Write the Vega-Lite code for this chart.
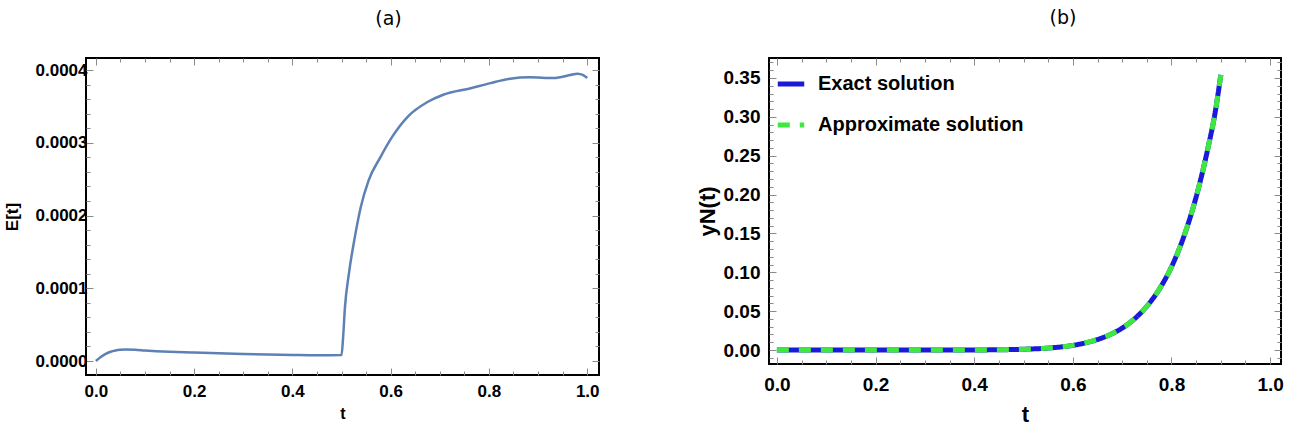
{
  "$schema": "https://vega.github.io/schema/vega-lite/v6.json",
  "padding": {"left": 2, "top": 8, "right": 5, "bottom": 0},
  "background": "white",
  "config": {
    "font": "Liberation Sans",
    "view": {"stroke": "black", "strokeWidth": 2},
    "axis": {
      "domain": false,
      "grid": false,
      "tickColor": "#8a8a8a",
      "tickWidth": 1,
      "labelFont": "Liberation Sans",
      "labelFontWeight": "bold",
      "labelColor": "black",
      "labelOverlap": false,
      "titleFont": "Liberation Sans",
      "titleFontWeight": "bold",
      "titleColor": "black"
    },
    "title": {"font": "DejaVu Sans", "fontSize": 19, "fontWeight": "normal", "color": "black", "anchor": "middle", "frame": "group"},
    "legend": {"labelFont": "Liberation Sans"}
  },
  "datasets": {
    "err": [
      {"t": 0.0, "E": 0.0},
      {"t": 0.01, "E": 0.0000055},
      {"t": 0.02, "E": 0.0000098},
      {"t": 0.03, "E": 0.0000128},
      {"t": 0.04, "E": 0.0000146},
      {"t": 0.05, "E": 0.0000155},
      {"t": 0.06, "E": 0.0000158},
      {"t": 0.08, "E": 0.0000154},
      {"t": 0.1, "E": 0.0000145},
      {"t": 0.15, "E": 0.0000128},
      {"t": 0.2, "E": 0.0000117},
      {"t": 0.25, "E": 0.0000107},
      {"t": 0.3, "E": 0.0000098},
      {"t": 0.35, "E": 0.000009},
      {"t": 0.4, "E": 0.0000083},
      {"t": 0.45, "E": 0.0000078},
      {"t": 0.5, "E": 0.0000082},
      {"t": 0.503, "E": 0.00003},
      {"t": 0.507, "E": 0.000074},
      {"t": 0.515, "E": 0.00012},
      {"t": 0.527, "E": 0.00017},
      {"t": 0.539, "E": 0.000211},
      {"t": 0.555, "E": 0.000248},
      {"t": 0.579, "E": 0.00028},
      {"t": 0.603, "E": 0.000308},
      {"t": 0.635, "E": 0.000336},
      {"t": 0.675, "E": 0.000356},
      {"t": 0.707, "E": 0.000366},
      {"t": 0.763, "E": 0.000375},
      {"t": 0.803, "E": 0.000382},
      {"t": 0.843, "E": 0.000388},
      {"t": 0.883, "E": 0.00039},
      {"t": 0.932, "E": 0.000389},
      {"t": 0.965, "E": 0.000393},
      {"t": 0.98, "E": 0.000395},
      {"t": 0.992, "E": 0.000393},
      {"t": 1.0, "E": 0.000389}
    ],
    "sol": [
      {"t": 0.0, "y": 0.0, "s": "Exact solution"},
      {"t": 0.1, "y": 0.0, "s": "Exact solution"},
      {"t": 0.2, "y": 0.0, "s": "Exact solution"},
      {"t": 0.3, "y": 0.0, "s": "Exact solution"},
      {"t": 0.35, "y": 0.00003, "s": "Exact solution"},
      {"t": 0.4, "y": 0.0001, "s": "Exact solution"},
      {"t": 0.45, "y": 0.0003, "s": "Exact solution"},
      {"t": 0.5, "y": 0.001, "s": "Exact solution"},
      {"t": 0.55, "y": 0.0025, "s": "Exact solution"},
      {"t": 0.6, "y": 0.006, "s": "Exact solution"},
      {"t": 0.625, "y": 0.0091, "s": "Exact solution"},
      {"t": 0.65, "y": 0.0135, "s": "Exact solution"},
      {"t": 0.675, "y": 0.0197, "s": "Exact solution"},
      {"t": 0.7, "y": 0.0282, "s": "Exact solution"},
      {"t": 0.725, "y": 0.0401, "s": "Exact solution"},
      {"t": 0.75, "y": 0.0563, "s": "Exact solution"},
      {"t": 0.775, "y": 0.078, "s": "Exact solution"},
      {"t": 0.8, "y": 0.107, "s": "Exact solution"},
      {"t": 0.825, "y": 0.146, "s": "Exact solution"},
      {"t": 0.85, "y": 0.197, "s": "Exact solution"},
      {"t": 0.875, "y": 0.263, "s": "Exact solution"},
      {"t": 0.8875, "y": 0.302, "s": "Exact solution"},
      {"t": 0.9, "y": 0.354, "s": "Exact solution"},
      {"t": 0.0, "y": 0.0, "s": "Approximate solution"},
      {"t": 0.1, "y": 0.0, "s": "Approximate solution"},
      {"t": 0.2, "y": 0.0, "s": "Approximate solution"},
      {"t": 0.3, "y": 0.0, "s": "Approximate solution"},
      {"t": 0.35, "y": 0.00003, "s": "Approximate solution"},
      {"t": 0.4, "y": 0.0001, "s": "Approximate solution"},
      {"t": 0.45, "y": 0.0003, "s": "Approximate solution"},
      {"t": 0.5, "y": 0.001, "s": "Approximate solution"},
      {"t": 0.55, "y": 0.0025, "s": "Approximate solution"},
      {"t": 0.6, "y": 0.006, "s": "Approximate solution"},
      {"t": 0.625, "y": 0.0091, "s": "Approximate solution"},
      {"t": 0.65, "y": 0.0135, "s": "Approximate solution"},
      {"t": 0.675, "y": 0.0197, "s": "Approximate solution"},
      {"t": 0.7, "y": 0.0282, "s": "Approximate solution"},
      {"t": 0.725, "y": 0.0401, "s": "Approximate solution"},
      {"t": 0.75, "y": 0.0563, "s": "Approximate solution"},
      {"t": 0.775, "y": 0.078, "s": "Approximate solution"},
      {"t": 0.8, "y": 0.107, "s": "Approximate solution"},
      {"t": 0.825, "y": 0.146, "s": "Approximate solution"},
      {"t": 0.85, "y": 0.197, "s": "Approximate solution"},
      {"t": 0.875, "y": 0.263, "s": "Approximate solution"},
      {"t": 0.8875, "y": 0.302, "s": "Approximate solution"},
      {"t": 0.9, "y": 0.354, "s": "Approximate solution"}
    ]
  },
  "bounds": "flush",
  "spacing": 170,
  "hconcat": [
    {
      "width": 513,
      "height": 317,
      "title": {"text": "(a)", "dx": 46, "offset": 29},
      "data": {"name": "err"},
      "layer": [
        {
          "mark": {"type": "line", "color": "#5e81b5", "strokeWidth": 2.5, "interpolate": "monotone"},
          "encoding": {
            "x": {"field": "t", "type": "quantitative", "scale": {"domain": [-0.02, 1.024], "nice": false, "zero": false},
                  "axis": {"title": "t", "orient": "bottom",
                           "values": [0, 0.05, 0.1, 0.15, 0.2, 0.25, 0.3, 0.35, 0.4, 0.45, 0.5, 0.55, 0.6, 0.65, 0.7, 0.75, 0.8, 0.85, 0.9, 0.95, 1.0],
                           "labelExpr": "indexof([0, 0.2, 0.4, 0.6, 0.8, 1], datum.value) >= 0 ? format(datum.value, '.1f') : ''",
                           "tickSize": {"condition": {"test": "indexof([0, 0.2, 0.4, 0.6, 0.8, 1], datum.value) >= 0", "value": -7}, "value": -4},
                           "labelPadding": 15, "labelFontSize": 17, "titleFontSize": 16, "titlePadding": 3}},
            "y": {"field": "E", "type": "quantitative", "scale": {"domain": [-0.0000192, 0.0004165], "nice": false, "zero": false},
                  "axis": {"title": "E[t]", "orient": "left",
                           "values": [0, 0.00002, 0.00004, 0.00006, 0.00008, 0.0001, 0.00012, 0.00014, 0.00016, 0.00018, 0.0002, 0.00022, 0.00024, 0.00026, 0.00028, 0.0003, 0.00032, 0.00034, 0.00036, 0.00038, 0.0004],
                           "labelExpr": "indexof([0, 0.0001, 0.0002, 0.0003, 0.0004], datum.value) >= 0 ? format(datum.value, '.4f') : ''",
                           "tickSize": {"condition": {"test": "indexof([0, 0.0001, 0.0002, 0.0003, 0.0004], datum.value) >= 0", "value": -7}, "value": -4},
                           "labelPadding": 6, "labelFontSize": 17, "titleFontSize": 17, "titlePadding": 14}}
          }
        },
        {
          "mark": {"type": "line", "opacity": 0, "interpolate": "monotone"},
          "encoding": {
            "x": {"field": "t", "type": "quantitative",
                  "axis": {"title": null, "orient": "top", "labels": false,
                           "values": [0, 0.05, 0.1, 0.15, 0.2, 0.25, 0.3, 0.35, 0.4, 0.45, 0.5, 0.55, 0.6, 0.65, 0.7, 0.75, 0.8, 0.85, 0.9, 0.95, 1.0],
                           "tickSize": {"condition": {"test": "indexof([0, 0.2, 0.4, 0.6, 0.8, 1], datum.value) >= 0", "value": -7}, "value": -4}}},
            "y": {"field": "E", "type": "quantitative",
                  "axis": {"title": null, "orient": "right", "labels": false,
                           "values": [0, 0.00002, 0.00004, 0.00006, 0.00008, 0.0001, 0.00012, 0.00014, 0.00016, 0.00018, 0.0002, 0.00022, 0.00024, 0.00026, 0.00028, 0.0003, 0.00032, 0.00034, 0.00036, 0.00038, 0.0004],
                           "tickSize": {"condition": {"test": "indexof([0, 0.0001, 0.0002, 0.0003, 0.0004], datum.value) >= 0", "value": -7}, "value": -4}}}
          }
        }
      ],
      "resolve": {"axis": {"x": "independent", "y": "independent"}}
    },
    {
      "width": 512,
      "height": 306,
      "title": {"text": "(b)", "dx": 38, "offset": 25},
      "data": {"name": "sol"},
      "layer": [
        {
          "mark": {"type": "line", "strokeWidth": 5, "strokeCap": "butt", "interpolate": "monotone"},
          "encoding": {
            "x": {"field": "t", "type": "quantitative", "scale": {"domain": [-0.016, 1.022], "nice": false, "zero": false},
                  "axis": {"title": "t", "orient": "bottom",
                           "values": [0, 0.05, 0.1, 0.15, 0.2, 0.25, 0.3, 0.35, 0.4, 0.45, 0.5, 0.55, 0.6, 0.65, 0.7, 0.75, 0.8, 0.85, 0.9, 0.95, 1.0],
                           "labelExpr": "indexof([0, 0.2, 0.4, 0.6, 0.8, 1], datum.value) >= 0 ? format(datum.value, '.1f') : ''",
                           "tickSize": {"condition": {"test": "indexof([0, 0.2, 0.4, 0.6, 0.8, 1], datum.value) >= 0", "value": -7}, "value": -4},
                           "labelPadding": 18, "labelFontSize": 19, "titleFontSize": 22, "titlePadding": 7}},
            "y": {"field": "y", "type": "quantitative", "scale": {"domain": [-0.018, 0.3757], "nice": false, "zero": false},
                  "axis": {"title": "yN(t)", "orient": "left",
                           "values": [-0.01, 0, 0.01, 0.02, 0.03, 0.04, 0.05, 0.06, 0.07, 0.08, 0.09, 0.1, 0.11, 0.12, 0.13, 0.14, 0.15, 0.16, 0.17, 0.18, 0.19, 0.2, 0.21, 0.22, 0.23, 0.24, 0.25, 0.26, 0.27, 0.28, 0.29, 0.3, 0.31, 0.32, 0.33, 0.34, 0.35, 0.36, 0.37],
                           "labelExpr": "indexof([0, 0.05, 0.1, 0.15, 0.2, 0.25, 0.3, 0.35], datum.value) >= 0 ? format(datum.value, '.2f') : ''",
                           "tickSize": {"condition": {"test": "indexof([0, 0.05, 0.1, 0.15, 0.2, 0.25, 0.3, 0.35], datum.value) >= 0", "value": -7}, "value": -4},
                           "labelPadding": 16, "labelFontSize": 19, "titleFontSize": 22, "titlePadding": 4}},
            "color": {"field": "s", "type": "nominal", "sort": ["Exact solution", "Approximate solution"],
                      "scale": {"domain": ["Exact solution", "Approximate solution"], "range": ["#1a1ad8", "#3ee83e"]},
                      "legend": {"title": null, "orient": "none", "legendX": 689, "legendY": 10, "symbolType": "stroke", "symbolStrokeWidth": 5, "symbolSize": 700, "labelFontSize": 20, "labelFontWeight": "bold", "labelColor": "black", "labelOffset": 11, "labelLimit": 400, "rowPadding": 15}},
            "strokeDash": {"field": "s", "type": "nominal", "sort": ["Exact solution", "Approximate solution"],
                      "scale": {"domain": ["Exact solution", "Approximate solution"], "range": [[1, 0], [12, 10]]}, "legend": null},
            "order": {"field": "s", "sort": "descending"}
          }
        },
        {
          "mark": {"type": "line", "opacity": 0},
          "encoding": {
            "x": {"field": "t", "type": "quantitative",
                  "axis": {"title": null, "orient": "top", "labels": false,
                           "values": [0, 0.05, 0.1, 0.15, 0.2, 0.25, 0.3, 0.35, 0.4, 0.45, 0.5, 0.55, 0.6, 0.65, 0.7, 0.75, 0.8, 0.85, 0.9, 0.95, 1.0],
                           "tickSize": {"condition": {"test": "indexof([0, 0.2, 0.4, 0.6, 0.8, 1], datum.value) >= 0", "value": -7}, "value": -4}}},
            "y": {"field": "y", "type": "quantitative",
                  "axis": {"title": null, "orient": "right", "labels": false,
                           "values": [-0.01, 0, 0.01, 0.02, 0.03, 0.04, 0.05, 0.06, 0.07, 0.08, 0.09, 0.1, 0.11, 0.12, 0.13, 0.14, 0.15, 0.16, 0.17, 0.18, 0.19, 0.2, 0.21, 0.22, 0.23, 0.24, 0.25, 0.26, 0.27, 0.28, 0.29, 0.3, 0.31, 0.32, 0.33, 0.34, 0.35, 0.36, 0.37],
                           "tickSize": {"condition": {"test": "indexof([0, 0.05, 0.1, 0.15, 0.2, 0.25, 0.3, 0.35], datum.value) >= 0", "value": -7}, "value": -4}}}
          }
        }
      ],
      "resolve": {"axis": {"x": "independent", "y": "independent"}}
    }
  ]
}
